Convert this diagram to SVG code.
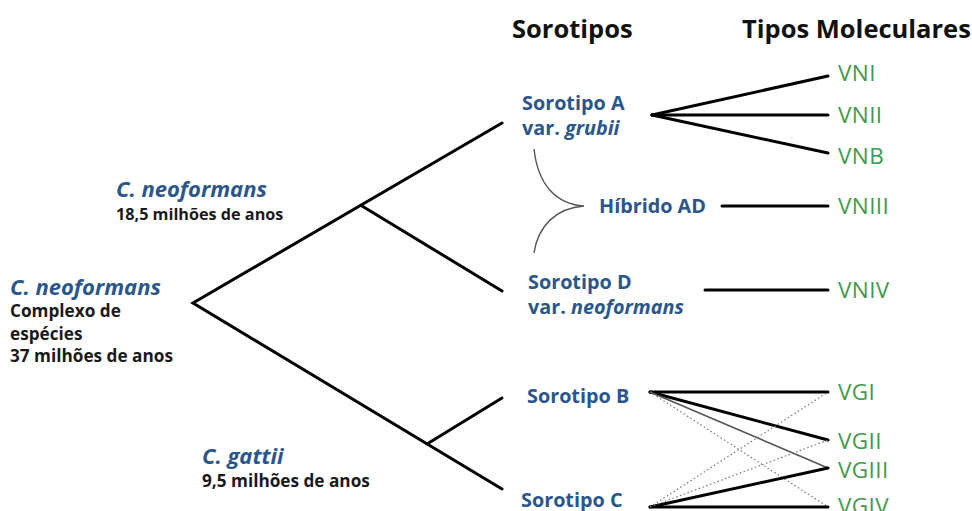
<svg xmlns="http://www.w3.org/2000/svg" width="972" height="511" viewBox="0 0 972 511">
<style>
.hdr{font-family:"Open Sans","Liberation Sans",sans-serif;font-weight:700;font-size:25.5px;fill:#111}
.blue{font-family:"Open Sans","Liberation Sans",sans-serif;font-weight:700;font-size:19.8px;fill:#2a568c}
.ital{font-style:italic}
.big{font-size:22px}
.blk{font-family:"Open Sans","Liberation Sans",sans-serif;font-weight:700;font-size:16.2px;fill:#1a1a1a}
.blk2{font-size:17.2px}
.grn{font-family:"Open Sans","Liberation Sans",sans-serif;font-weight:400;font-size:22.5px;letter-spacing:0.4px;fill:#3f9a4c}
.tree{stroke:#000;stroke-width:3;fill:none;stroke-linecap:round}
.thin{stroke:#555;stroke-width:1.6;fill:none}
.dot{stroke:#777;stroke-width:1.2;fill:none;stroke-dasharray:1.5 2.5}
.brace{stroke:#555;stroke-width:1.4;fill:none}
</style>
<rect width="972" height="511" fill="#fff"/>
<g id="headers">
<text class="hdr" x="512" y="38">Sorotipos</text>
<text class="hdr" x="742" y="38">Tipos Moleculares</text>
</g>
<g id="connectors">
<polyline class="tree" points="502,123 193,303 502,489"/>
<line class="tree" x1="362" y1="206" x2="502" y2="291"/>
<line class="tree" x1="427" y1="444" x2="502" y2="398"/>
<line class="tree" x1="652" y1="115" x2="828" y2="76"/>
<line class="tree" x1="652" y1="115" x2="828" y2="115"/>
<line class="tree" x1="652" y1="115" x2="828" y2="153"/>
<line class="tree" x1="722" y1="206" x2="828" y2="206"/>
<line class="tree" x1="705" y1="290" x2="828" y2="290"/>
<line class="tree" x1="650" y1="392" x2="828" y2="392"/>
<line class="tree" x1="650" y1="392" x2="828" y2="440"/>
<line class="thin" x1="650" y1="392" x2="828" y2="468"/>
<line class="dot" x1="650" y1="392" x2="828" y2="507"/>
<line class="tree" x1="650" y1="507" x2="828" y2="507"/>
<line class="tree" x1="650" y1="507" x2="828" y2="468"/>
<line class="dot" x1="650" y1="507" x2="828" y2="440"/>
<line class="dot" x1="650" y1="507" x2="828" y2="392"/>
<path class="brace" d="M534,149 C538,185 556,204 584,206 C556,208 538,226 534,253"/>
</g>
<g id="root">
<text class="blue ital big" x="10" y="295">C. neoformans</text>
<text class="blk blk2" x="10" y="317">Complexo de</text>
<text class="blk blk2" x="10" y="340">espécies</text>
<text class="blk blk2" x="10" y="362">37 milhões de anos</text>
</g>
<g id="neoformans">
<text class="blue ital big" x="116" y="197">C. neoformans</text>
<text class="blk" x="116" y="220">18,5 milhões de anos</text>
</g>
<g id="gattii">
<text class="blue ital big" x="202" y="464">C. gattii</text>
<text class="blk blk2" x="202" y="487">9,5 milhões de anos</text>
</g>
<g id="sorotipoA">
<text class="blue" x="522" y="110">Sorotipo A</text>
<text class="blue" x="522" y="135">var. <tspan class="ital">grubii</tspan></text>
</g>
<g id="hibridoAD">
<text class="blue" x="599" y="213">Híbrido AD</text>
</g>
<g id="sorotipoD">
<text class="blue" x="528" y="289">Sorotipo D</text>
<text class="blue" x="528" y="314">var. <tspan class="ital">neoformans</tspan></text>
</g>
<g id="sorotipoB">
<text class="blue" x="527" y="403">Sorotipo B</text>
</g>
<g id="sorotipoC">
<text class="blue" x="521" y="507">Sorotipo C</text>
</g>
<g id="VNI"><text class="grn" x="838" y="81">VNI</text></g>
<g id="VNII"><text class="grn" x="838" y="123">VNII</text></g>
<g id="VNB"><text class="grn" x="838" y="164">VNB</text></g>
<g id="VNIII"><text class="grn" x="838" y="214">VNIII</text></g>
<g id="VNIV"><text class="grn" x="838" y="298">VNIV</text></g>
<g id="VGI"><text class="grn" x="838" y="400">VGI</text></g>
<g id="VGII"><text class="grn" x="838" y="449">VGII</text></g>
<g id="VGIII"><text class="grn" x="838" y="478">VGIII</text></g>
<g id="VGIV"><text class="grn" x="838" y="514">VGIV</text></g>
</svg>
